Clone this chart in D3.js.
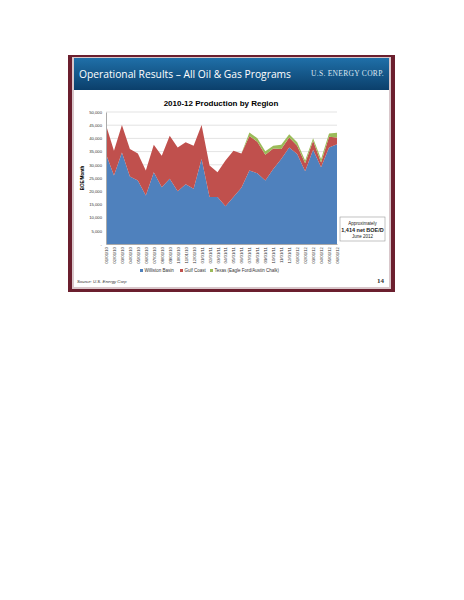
<!DOCTYPE html>
<html><head><meta charset="utf-8">
<script src="https://cdn.jsdelivr.net/npm/d3@7/dist/d3.min.js"></script>
<style>body{margin:0;background:#fff}</style></head>
<body><svg id="c" width="464" height="600"></svg>
<script>
const months = ["01/01/10","02/01/10","03/01/10","04/01/10","05/01/10","06/01/10","07/01/10","08/01/10","09/01/10","10/01/10","11/01/10","12/01/10","01/01/11","02/01/11","03/01/11","04/01/11","05/01/11","06/01/11","07/01/11","08/01/11","09/01/11","10/01/11","11/01/11","12/01/11","01/01/12","02/01/12","03/01/12","04/01/12","05/01/12","06/01/12"];
const williston = [34100,25900,34700,25600,24100,18400,27200,21500,24700,20000,22600,20900,32200,17800,17800,14300,17800,21300,27800,26800,24100,28400,32200,36600,34100,27600,35700,29100,36600,37800];
const gulf = [11000,9400,10400,10400,10200,9400,10400,11900,16300,16600,15900,16300,12900,11900,9400,17300,17500,13000,13100,11900,9700,7800,3800,3700,3100,3000,3400,1800,4000,2500];
const texas = [0,0,0,0,0,0,0,0,0,0,0,0,0,0,0,0,0,0,1300,1400,1300,1000,1600,1300,1300,1000,1000,1300,1300,1800];
const yTicks = [0,5000,10000,15000,20000,25000,30000,35000,40000,45000,50000];
const seriesNames = ["Williston Basin","Gulf Coast","Texas (Eagle Ford/Austin Chalk)"];
const colors = ["#4f81bd","#c0504d","#9bbb59"];

const svg = d3.select("#c");
const defs = svg.append("defs");
const g1 = defs.append("linearGradient").attr("id","hdr").attr("x1",0).attr("y1",0).attr("x2",0).attr("y2",1);
g1.append("stop").attr("offset","0").attr("stop-color","#1f6fa8");
g1.append("stop").attr("offset","1").attr("stop-color","#0b3f6b");
svg.append("rect").attr("x",68).attr("y",55).attr("width",327).attr("height",237).attr("fill","#6b1f2e");
svg.append("rect").attr("x",72).attr("y",57).attr("width",319).attr("height",232).attr("fill","#d9c7cb");
svg.append("rect").attr("x",74).attr("y",58).attr("width",315).attr("height",229).attr("fill","#fff");
svg.append("rect").attr("x",74).attr("y",58).attr("width",315).attr("height",32).attr("fill","url(#hdr)");
svg.append("text").attr("x",79).attr("y",78).attr("fill","#fff").attr("font-family","Open Sans, sans-serif").attr("font-size",11.5)
 .attr("textLength",212).attr("lengthAdjust","spacingAndGlyphs").text("Operational Results – All Oil & Gas Programs");
svg.append("text").attr("x",384).attr("y",76).attr("text-anchor","end").attr("fill","#dde6f0").attr("font-family","Liberation Serif, serif").attr("font-size",7.5).attr("letter-spacing",0.3).text("U.S. ENERGY CORP.");

const x = d3.scaleLinear().domain([0, months.length-1]).range([106,337]);
const y = d3.scaleLinear().domain([0,50000]).range([244,112]);
const rows = months.map((m,i)=>({i, w:williston[i], g:gulf[i], t:texas[i]}));
const stack = d3.stack().keys(["w","g","t"])(rows);

svg.append("text").attr("x",221).attr("y",106).attr("text-anchor","middle").attr("font-family","Liberation Sans, sans-serif").attr("font-weight","bold").attr("font-size",8).text("2010-12 Production by Region");

svg.append("g").selectAll("line").data(yTicks.slice(1)).join("line")
 .attr("x1",106).attr("x2",337).attr("y1",d=>y(d)).attr("y2",d=>y(d)).attr("stroke","#d0d0d0").attr("stroke-width",0.6);

const area = d3.area().x(d=>x(d.data.i)).y0(d=>y(d[0])).y1(d=>y(d[1]));
svg.append("g").selectAll("path").data(stack).join("path").attr("d",area).attr("fill",(d,i)=>colors[i]);

const ya = svg.append("g").attr("transform","translate(106,0)")
 .call(d3.axisLeft(y).tickValues(yTicks).tickSize(0).tickPadding(4).tickFormat(d=>d===0?"-":d3.format(",")(d)));
ya.select(".domain").attr("stroke","#aaa");
ya.selectAll("text").attr("font-size",4.2).attr("font-family","Liberation Sans, sans-serif").attr("fill","#333");

const xa = svg.append("g").attr("transform","translate(0,244)")
 .call(d3.axisBottom(x).tickValues(d3.range(months.length)).tickSize(0).tickFormat(i=>months[i]));
xa.select(".domain").attr("stroke","#aaa");
xa.selectAll("text").attr("font-size",4.3).attr("font-family","Liberation Sans, sans-serif").attr("fill","#333")
 .attr("transform","rotate(-90)").attr("text-anchor","end").attr("dx",-3).attr("dy",-1.5);

svg.append("text").attr("transform","translate(84,178) rotate(-90)").attr("text-anchor","middle")
 .attr("font-family","Liberation Sans, sans-serif").attr("font-weight","bold").attr("font-size",4.5).text("BOE/Month");

const lg = svg.append("g").attr("font-family","Liberation Sans, sans-serif").attr("font-size",4.5).attr("fill","#333");
const lx = [140,180,210];
seriesNames.forEach((n,i)=>{
 lg.append("rect").attr("x",lx[i]).attr("y",269).attr("width",3).attr("height",3).attr("fill",colors[i]);
 lg.append("text").attr("x",lx[i]+4.5).attr("y",272).text(n);
});

svg.append("rect").attr("x",340).attr("y",217).attr("width",45).attr("height",24).attr("fill","#fff").attr("stroke","#999").attr("stroke-width",0.6);
const an = svg.append("g").attr("font-family","Liberation Sans, sans-serif").attr("text-anchor","middle").attr("fill","#222");
an.append("text").attr("x",362.5).attr("y",225).attr("font-size",4.5).text("Approximately");
an.append("text").attr("x",362.5).attr("y",232).attr("font-size",5.5).attr("font-weight","bold").text("1,414 net BOE/D");
an.append("text").attr("x",362.5).attr("y",238).attr("font-size",4.5).text("June 2012");

svg.append("text").attr("x",77).attr("y",283).attr("font-family","Liberation Sans, sans-serif").attr("font-style","italic").attr("font-size",4.3).attr("fill","#333").text("Source: U.S. Energy Corp");
svg.append("text").attr("x",384).attr("y",283).attr("text-anchor","end").attr("font-family","Liberation Serif, serif").attr("font-weight","bold").attr("font-size",7).attr("fill","#333").text("14");
</script></body></html>
